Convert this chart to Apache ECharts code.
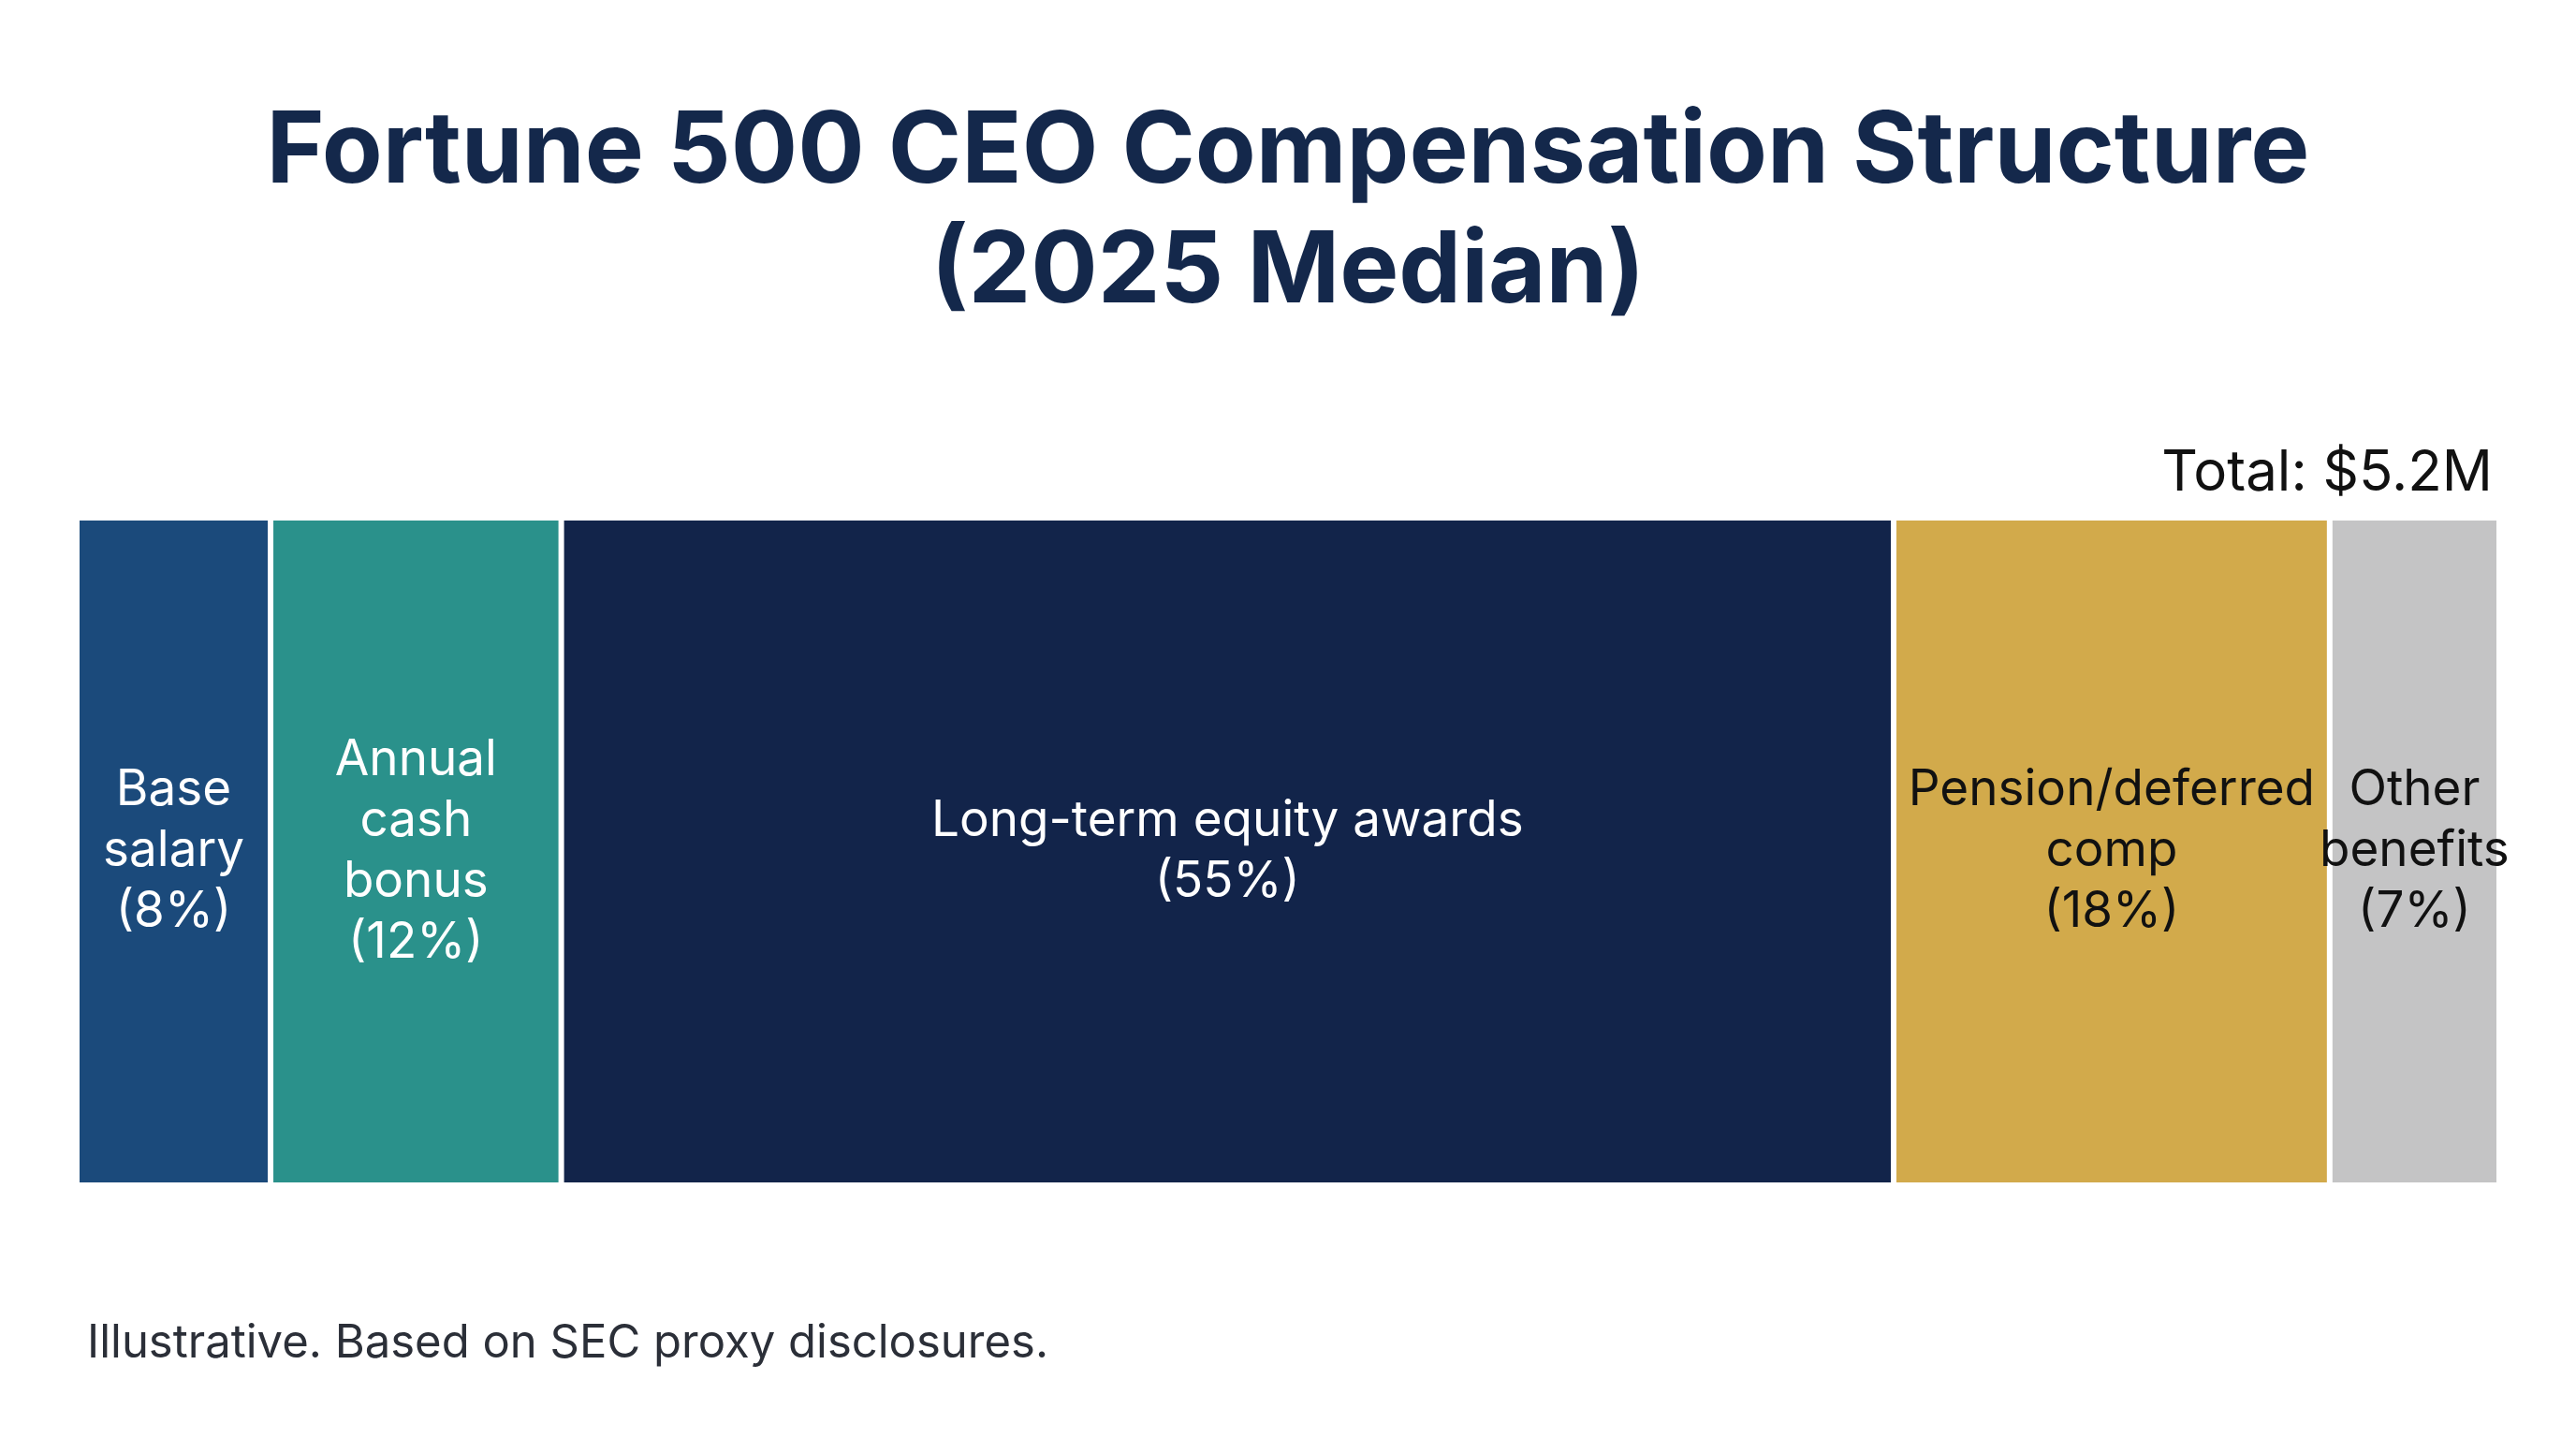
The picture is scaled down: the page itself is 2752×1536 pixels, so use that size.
<!DOCTYPE html>
<html>
<head>
<meta charset="utf-8">
<title>Fortune 500 CEO Compensation Structure</title>
<script src="https://cdn.jsdelivr.net/npm/echarts@6/dist/echarts.min.js"></script>
<style>
  html, body { margin: 0; padding: 0; background: #fff; }
  #chart { width: 2752px; height: 1536px; }
</style>
</head>
<body>
<div id="chart"></div>
<script>
// compensation components, in order left to right
var components = ['Base salary', 'Annual cash bonus', 'Long-term equity awards', 'Pension/deferred comp', 'Other benefits'];
// how the names wrap inside each block
var componentLabels = ['Base\nsalary', 'Annual\ncash\nbonus', 'Long-term equity awards', 'Pension/deferred\ncomp', 'Other\nbenefits'];
var sharePct = [8, 12, 55, 18, 7];
var blockColors = ['#1b4a7b', '#2a918b', '#12244a', '#d2aa4b', '#c4c4c5'];
var labelColors = ['#ffffff', '#ffffff', '#ffffff', '#111111', '#111111'];
var totalText = 'Total: $5.2M';

var myChart = echarts.init(document.getElementById('chart'));

var series = components.map(function (name, i) {
    return {
        name: name,
        type: 'bar',
        stack: 'total',
        barWidth: '100%',
        data: [sharePct[i]],
        itemStyle: {
            color: blockColors[i],
            borderColor: '#ffffff',
            borderWidth: 3
        },
        label: {
            show: true,
            position: 'inside',
            formatter: function (p) {
                return componentLabels[i] + '\n(' + p.value + '%)';
            },
            color: labelColors[i],
            fontFamily: 'Inter',
            fontSize: 53,
            lineHeight: 65,
            align: 'center'
        }
    };
});

var option = {
    backgroundColor: '#ffffff',
    animation: false,
    title: [
        {
            text: 'Fortune 500 CEO Compensation Structure\n(2025 Median)',
            left: 'center',
            top: 94,
            textStyle: {
                color: '#14284b',
                fontFamily: 'Inter',
                fontWeight: 'bold',
                fontSize: 106,
                lineHeight: 128
            }
        },
        {
            text: totalText,
            right: 84,
            top: 470,
            textStyle: {
                color: '#111111',
                fontFamily: 'Inter',
                fontWeight: 'normal',
                fontSize: 60,
                lineHeight: 62
            }
        },
        {
            text: 'Illustrative. Based on SEC proxy disclosures.',
            left: 88,
            top: 1404,
            textStyle: {
                color: '#2b2f38',
                fontFamily: 'Inter',
                fontWeight: 'normal',
                fontSize: 49,
                lineHeight: 52
            }
        }
    ],
    grid: {
        left: 82,
        right: 82,
        top: 553,
        height: 713
    },
    xAxis: {
        type: 'value',
        min: 0,
        max: 100,
        show: false
    },
    yAxis: {
        type: 'category',
        data: ['CEO pay'],
        show: false
    },
    series: series
};

myChart.setOption(option);
</script>
</body>
</html>
